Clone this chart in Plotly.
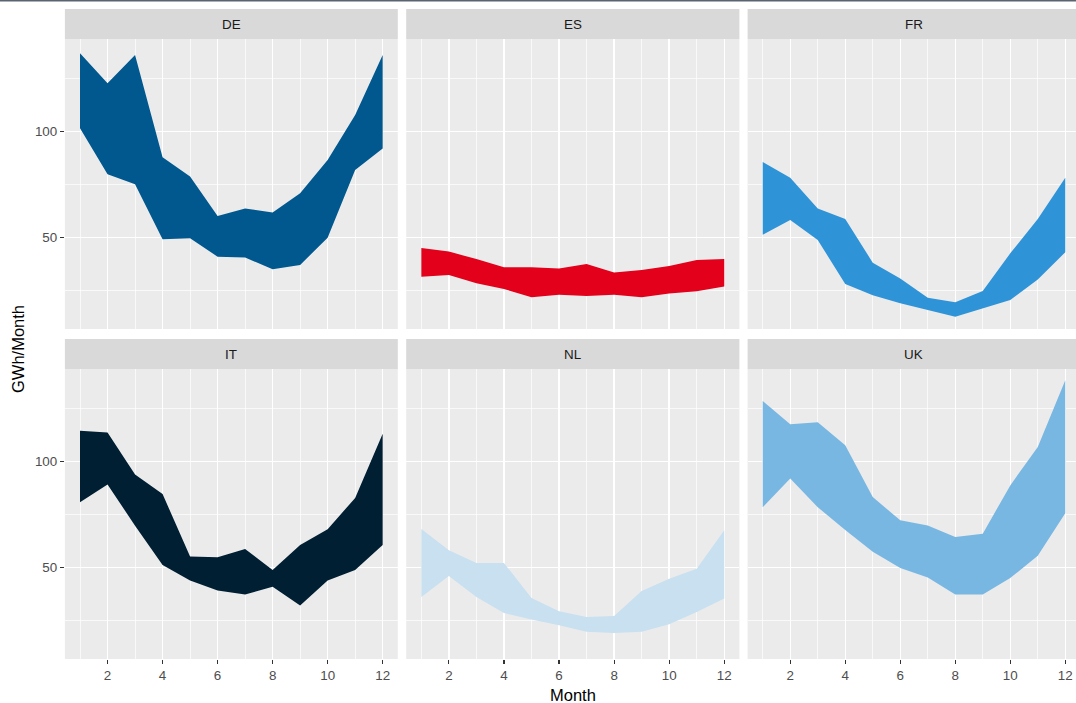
import plotly.graph_objects as go
from plotly.subplots import make_subplots

months = [1, 2, 3, 4, 5, 6, 7, 8, 9, 10, 11, 12]
countries = ["DE", "ES", "FR", "IT", "NL", "UK"]

de_upper = [137.0, 122.8, 136.2, 87.9, 78.8, 60.2, 63.8, 61.8, 70.9, 86.6, 107.9, 136.2]
de_lower = [101.6, 79.9, 75.2, 49.2, 49.7, 41.0, 40.6, 35.1, 37.1, 50.0, 81.9, 92.1]
es_upper = [45.1, 43.4, 39.9, 36.0, 36.0, 35.4, 37.6, 33.6, 34.7, 36.6, 39.5, 39.9]
es_lower = [31.6, 32.4, 28.5, 25.8, 21.9, 23.1, 22.5, 23.1, 21.9, 23.7, 24.7, 26.9]
fr_upper = [85.7, 78.3, 63.8, 58.8, 38.2, 30.7, 21.7, 19.5, 24.8, 42.6, 58.8, 78.3]
fr_lower = [51.4, 58.3, 48.9, 28.1, 22.8, 19.0, 15.9, 12.7, 16.8, 20.6, 30.3, 43.1]
it_upper = [114.6, 113.8, 93.9, 84.7, 55.3, 54.9, 58.8, 48.9, 60.7, 68.1, 82.9, 113.1]
it_lower = [80.8, 89.2, 69.8, 51.3, 43.9, 39.2, 37.3, 41.0, 32.1, 43.9, 48.9, 60.7]
nl_upper = [68.2, 58.2, 52.2, 52.2, 35.7, 29.4, 26.7, 27.2, 39.0, 44.8, 49.5, 67.6]
nl_lower = [36.2, 46.1, 36.2, 28.6, 25.5, 22.8, 19.7, 19.2, 19.7, 23.3, 29.1, 35.4]
uk_upper = [128.6, 117.6, 118.6, 107.7, 83.3, 72.3, 69.9, 64.5, 66.0, 88.8, 106.9, 138.4]
uk_lower = [78.5, 92.1, 78.5, 67.8, 57.5, 49.8, 45.4, 37.3, 37.3, 45.1, 55.6, 75.6]

uppers = [de_upper, es_upper, fr_upper, it_upper, nl_upper, uk_upper]
lowers = [de_lower, es_lower, fr_lower, it_lower, nl_lower, uk_lower]
colors = ["#01588F", "#E2001A", "#2F93D8", "#001F33", "#C8E0EF", "#79B7E3"]

x_major = [2, 4, 6, 8, 10, 12]
x_minor = [1, 3, 5, 7, 9, 11]
y_major = [50, 100]
y_minor = [25, 75, 125]

W, H = 1076, 703
FONT = "Liberation Sans, Arial, sans-serif"

fig = make_subplots(rows=2, cols=3)

for i, c in enumerate(countries):
    r, col = i // 3 + 1, i % 3 + 1
    xs = months + months[::-1]
    ys = uppers[i] + lowers[i][::-1]
    fig.add_trace(go.Scatter(x=xs, y=ys, fill="toself", fillcolor=colors[i],
                             mode="lines", line=dict(width=0, color=colors[i]),
                             hoverinfo="skip", showlegend=False), row=r, col=col)

# panel geometry (pixels)
xdom_px = [(64.9, 397.8), (406.2, 739.4), (747.6, 1076.0)]
xranges = [[0.45, 12.55], [0.45, 12.55], [0.45, 12.39]]
ydom_px = [(39, 329), (369, 659)]
strip_px = [(9, 39), (339, 369)]

def py(p):
    return 1 - p / H

for i, c in enumerate(countries):
    r, col = i // 3, i % 3
    ax = i + 1
    xkey = "xaxis" if ax == 1 else f"xaxis{ax}"
    ykey = "yaxis" if ax == 1 else f"yaxis{ax}"
    show_x = r == 1
    show_y = col == 0
    fig.layout[xkey].update(
        domain=[xdom_px[col][0] / W, xdom_px[col][1] / W],
        range=xranges[col], tickvals=x_major,
        showgrid=True, gridcolor="white", gridwidth=1.4,
        zeroline=False, showline=False, fixedrange=True,
        showticklabels=show_x, ticks="outside" if show_x else "",
        ticklen=4, tickwidth=1.1, tickcolor="#333333",
        tickfont=dict(family=FONT, size=13.4, color="#4D4D4D"),
        minor=dict(tickvals=x_minor, showgrid=True, gridcolor="white", gridwidth=0.7, ticks=""),
    )
    fig.layout[ykey].update(
        domain=[py(ydom_px[r][1]), py(ydom_px[r][0])],
        range=[6.9, 143.7], tickvals=y_major,
        showgrid=True, gridcolor="white", gridwidth=1.4,
        zeroline=False, showline=False, fixedrange=True,
        showticklabels=show_y, ticks="outside" if show_y else "",
        ticklen=4, tickwidth=1.1, tickcolor="#333333",
        tickfont=dict(family=FONT, size=13.4, color="#4D4D4D"),
        minor=dict(tickvals=y_minor, showgrid=True, gridcolor="white", gridwidth=0.7, ticks=""),
    )
    xref = "x" if ax == 1 else f"x{ax}"
    fig.add_shape(type="rect", xref=f"{xref} domain", yref="paper",
                  x0=0, x1=1, y0=py(strip_px[r][1]), y1=py(strip_px[r][0]),
                  fillcolor="#D9D9D9", line=dict(width=0), layer="below")
    fig.add_annotation(text=c, xref=f"{xref} domain", yref="paper",
                       x=0.5 if col < 2 else (0.5 * (1080.0 - 747.6) / (1076.0 - 747.6)),
                       y=py((strip_px[r][0] + strip_px[r][1]) / 2),
                       showarrow=False, xanchor="center", yanchor="middle",
                       font=dict(family=FONT, size=13.4, color="#1A1A1A"))

fig.add_annotation(text="Month", xref="paper", yref="paper", x=572.5 / W, y=py(695),
                   showarrow=False, xanchor="center", yanchor="middle",
                   font=dict(family=FONT, size=16.5, color="black"))
fig.add_annotation(text="GWh/Month", xref="paper", yref="paper", x=18 / W, y=py(349),
                   textangle=-90, showarrow=False, xanchor="center", yanchor="middle",
                   font=dict(family=FONT, size=16.5, color="black"))
fig.add_shape(type="line", xref="paper", yref="paper", x0=0, x1=1, y0=py(0.8), y1=py(0.8),
              line=dict(color="#5B6270", width=1.6))

fig.update_layout(width=W, height=H, autosize=False,
                  margin=dict(l=0, r=0, t=0, b=0, pad=0),
                  paper_bgcolor="white", plot_bgcolor="#EBEBEB",
                  showlegend=False)

fig.write_html("out.html", config={"displayModeBar": False, "staticPlot": True},
               post_script="document.body.style.margin='0';document.body.style.overflow='hidden';")
